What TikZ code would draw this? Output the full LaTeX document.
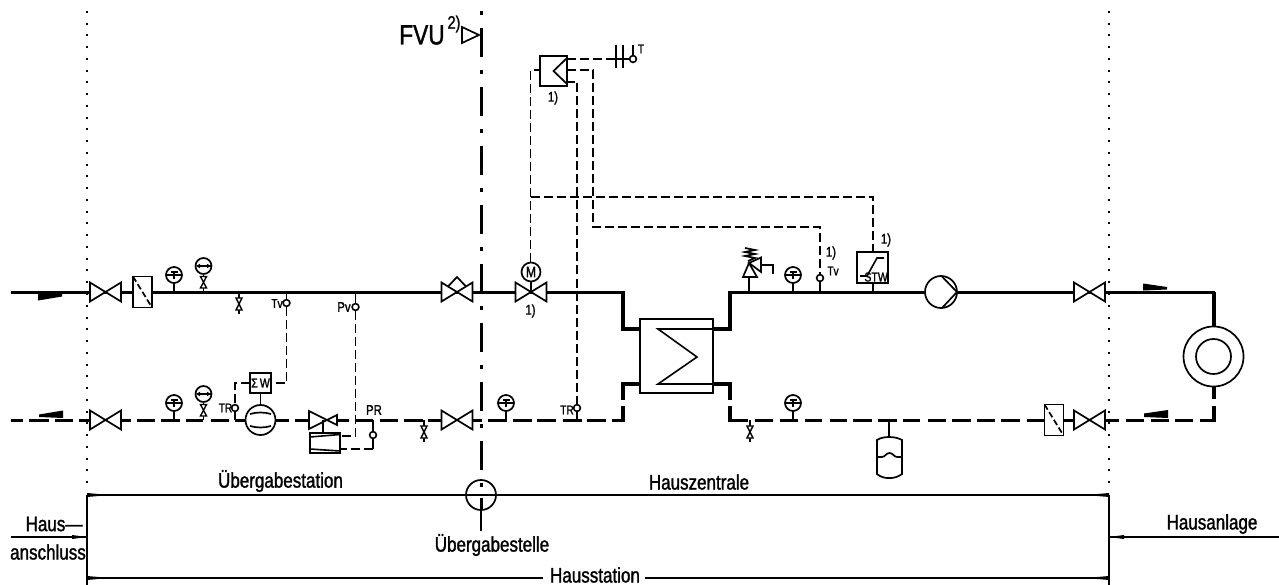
\documentclass[tikz,border=0pt]{standalone}
\usepackage{fontspec}
\setmainfont{Liberation Sans}[FakeStretch=0.81,FakeBold=1.4]
\tikzset{
 x=1pt,y=-1pt,
 pipe/.style={line width=3pt,line cap=butt},
 pipeh/.style={line width=4pt,line cap=butt,line join=miter},
 sym/.style={line width=1.7pt,line join=miter},
 thin line/.style={line width=1.6pt},
 ctrl/.style={line width=1.6pt,dash pattern=on 9pt off 4pt},
 lbl/.style={inner sep=0pt,font=\fontsize{21}{21}\selectfont},
 small/.style={inner sep=0pt,font=\fontsize{14}{14}\selectfont},
 tiny lbl/.style={inner sep=0pt,font=\fontsize{12.5}{12.5}\selectfont},
}
\newcommand{\valve}[2]{%
 \filldraw[sym,fill=white] (#1-15.5,#2-9.5)--(#1+15.5,#2+9.5)--(#1+15.5,#2-9.5)--(#1-15.5,#2+9.5)--cycle;}
\newcommand{\filterbox}[2]{%
 \filldraw[sym,fill=white] (#1-9.5,#2-15.5) rectangle (#1+9.5,#2+15.5);
 \draw[sym,dash pattern=on 6pt off 3pt] (#1-9.5,#2-15.5)--(#1+9.5,#2+15.5);}
\newcommand{\thermo}[2]{%
 \draw[thin line] (#1,#2+8)--(#1,#2+17);
 \filldraw[sym,fill=white] (#1,#2) circle (8);
 \draw[line width=1.4pt] (#1-8,#2)--(#1+8,#2);
 \draw[line width=1.4pt] (#1-3.5,#2-3)--(#1+3.5,#2-3) (#1,#2-3)--(#1,#2+4);}
\newcommand{\mano}[2]{%
 \filldraw[sym,fill=white] (#1,#2) circle (8);
 \draw[line width=1.3pt] (#1-7,#2)--(#1+7,#2);
 \fill (#1-7.5,#2)--(#1-3.5,#2-2.2)--(#1-3.5,#2+2.2)--cycle;
 \fill (#1+7.5,#2)--(#1+3.5,#2-2.2)--(#1+3.5,#2+2.2)--cycle;
 \draw[thin line] (#1,#2+8)--(#1,#2+26);
 \filldraw[sym,line width=1.4pt,fill=white] (#1-3,#2+10.5)--(#1+3,#2+10.5)--(#1-3,#2+22)--(#1+3,#2+22)--cycle;}
\newcommand{\drain}[2]{%
 \draw[thin line] (#1,#2)--(#1,#2+22);
 \filldraw[sym,line width=1.4pt,fill=white] (#1-3,#2+6)--(#1+3,#2+6)--(#1-3,#2+18)--(#1+3,#2+18)--cycle;}
\newcommand{\sensor}[2]{\draw[thin line,fill=white] (#1,#2) circle (3.4);}
\begin{document}
\begin{tikzpicture}
\useasboundingbox (0,0) rectangle (1279,585);
\foreach \xx in {87,1109}{
 \foreach \yy in {12,23.75,...,490}{\fill (\xx-1,\yy-1) rectangle (\xx+1,\yy+1);}}
\foreach \yy in {13,72,131,190,249,308,367,426,485}{\fill (479.5,\yy-2) rectangle (482.5,\yy+2);}
\foreach \yy in {28,87,146,205,264,323,382,441}{\fill (479.5,\yy) rectangle (482.5,\yy+29);}
\fill (479.5,498) rectangle (482.5,510);
% supply pipe
\draw[pipe] (11,292)--(623,292);
\draw[pipeh] (623,290.5)--(623,329)--(640,329);
\draw[pipeh] (713,329)--(730,329)--(730,290.5);
\draw[pipe] (730,292)--(1215,292);
\draw[pipeh] (1213.5,292)--(1213.5,327);
% return pipe
\foreach \a/\b in {11/23,29/49,55/73,79/90,121/131,137/155,161/180,186/203,211/229,235/245,276/289,295/309,337/349,355/373,380/398,404/423,428/442,472/482,488/507,513/532,537/556,563/582,587/606,612/624.5,730/748,755/773,780/798,805/822,830/847,853/872,878/897,903/920,928/946,952/971,977/995,1001/1020,1027/1045,1063/1073,1106/1119,1126/1144,1151/1169,1175/1193,1200/1215.5}{
 \draw[pipe] (\a,420)--(\b,420);}
\draw[pipeh] (640,384)--(623,384)--(623,400);
\draw[pipeh] (623,406)--(623,421.5);
\draw[pipeh] (713,384)--(730,384)--(730,400);
\draw[pipeh] (730,406)--(730,421.5);
\draw[pipeh] (1213.5,387)--(1213.5,399);
\draw[pipeh] (1213.5,406)--(1213.5,421.5);
% flow wedges
\fill (38,294)--(62,294)--(62,296.5)--(38,300.5)--cycle;
\fill (39,414.5)--(63,410.5)--(63,418)--(39,417)--cycle;
\fill (1143,283.5)--(1167,287)--(1167,289.5)--(1143,290.5)--cycle;
\fill (1144,413.5)--(1168,410)--(1168,418)--(1144,417)--cycle;
% valves
\valve{105.5}{292}\valve{105.5}{420}
\filterbox{142.5}{292}
\filterbox{1054}{420}
\valve{1089.5}{292}\valve{1089.5}{420}
\valve{457}{420}
\valve{457}{292}
\draw[sym] (448,286.5)--(457,277)--(466,286.5);
\valve{531}{292}
\draw[thin line] (531,281.5)--(531,292);
\filldraw[sym,fill=white] (531,272) circle (9.5);
\node[inner sep=0pt,font=\fontsize{15}{15}\selectfont] (mlabel) at (531,272) {M};
\node[small] (one a) at (530.5,311) {1)};
% instruments
\thermo{174}{275}\mano{203.5}{266}
\thermo{174}{403}\mano{203.5}{394}
\thermo{506}{403}\thermo{793}{275}\thermo{793}{403}
\drain{239}{292}\drain{424}{420}\drain{750}{420}
% Tv left
\draw[thin line] (286.5,292)--(286.5,300);
\sensor{286.5}{303}
\node[tiny lbl] (tv1) at (277,303.5) {Tv};
\draw[ctrl] (286.5,306.5)--(286.5,383)--(271,383);
\draw[ctrl] (250,383)--(235,383)--(235,405);
\draw[thin line] (235,411)--(235,420);
\sensor{235}{408}
\node[tiny lbl] (tr1) at (225.5,408) {TR};
% heat meter
\draw[sym,fill=white] (250,373) rectangle (271,393);
\node[inner sep=0pt,font=\fontsize{13}{13}\selectfont] (sw) at (260.5,383) {Σ\,W};
\draw[sym] (260.5,393)--(260.5,405);
\filldraw[sym,fill=white] (260.5,420) circle (15);
\draw[sym] (250,414) .. controls (257,412) and (264,412) .. (271,414);
\draw[sym] (250,426) .. controls (257,428) and (264,428) .. (271,426);
% Pv
\draw[thin line] (355.5,292)--(355.5,304);
\sensor{355.5}{307}
\node[small] (pv) at (344,307) {Pv};
\draw[ctrl] (355.5,310.5)--(355.5,436)--(340,436);
% pressure regulator
\filldraw[sym,fill=white] (309,411)--(337,425)--(337,415)--(309,429)--cycle;
\draw[sym] (323,420)--(323,433);
\draw[sym,fill=white] (310,433) rectangle (340,453);
\draw[thin line] (310,437)--(340,434.5) (310,449)--(340,451);
\draw[thin line] (373,420)--(373,432);
\sensor{373}{435}
\node[small] (pr) at (374,410) {PR};
\draw[thin line] (373,438.2)--(373,449);
\draw[ctrl] (373,449)--(340,449);
% TR right
\draw[thin line] (577,411)--(577,420);
\sensor{577}{408}
\node[tiny lbl] (tr2) at (567,410) {TR};
% heat exchanger
\draw[line width=2pt] (640,319) rectangle (713,393);
\draw[line width=1.6pt] (713,329)--(658,329)--(697,357)--(658,384)--(713,384);
% control lines
\draw[ctrl] (530.5,262)--(530.5,70)--(540,70);
\draw[ctrl] (530.5,197)--(873,197)--(873,252);
\draw[ctrl] (577,404.5)--(577,82)--(567,82);
\draw[ctrl] (567,70)--(593,70)--(593,227)--(820,227)--(820,274.5);
\draw[ctrl] (567,59)--(613,59);
\draw[sym] (540,56) rectangle (567,86);
\draw[sym] (567,58)--(553.5,71)--(567,84);
\draw[thin line] (613,59)--(629.5,59);
\draw[sym] (616,45)--(616,68) (623,45)--(623,68);
\draw[thin line] (633,55.5)--(633,45);
\sensor{633}{59}
\node[tiny lbl] (t) at (641,49) {T};
\node[small] (one b) at (553,98) {1)};
% right sensor & STW
\draw[thin line] (820,281.5)--(820,292);
\sensor{820}{278}
\node[small] (one c) at (831,253) {1)};
\node[tiny lbl] (tv2) at (833,271) {Tv};
\draw[thin line] (873,283)--(873,292);
\draw[sym] (857,252) rectangle (888,283);
\draw[thin line] (860,276)--(867,276)--(877,258)--(884,258);
\node[inner sep=0pt,font=\fontsize{13}{13}\selectfont,anchor=east] (stw) at (888,277) {STW};
\node[small] (one d) at (886,240) {1)};
% safety valve
\draw[thin line] (749,277)--(749,292);
\draw[sym] (743,277)--(757,277)--(749,263)--cycle;
\draw[line width=1.7pt] (745,248)--(755,250)--(745,252)--(755,254)--(745,256)--(755,258)--(748,261);
\draw[sym] (749,263)--(761,257.5)--(761,272)--cycle;
\draw[thin line] (761,265)--(773,265)--(773,274);
% pump
\filldraw[sym,fill=white] (941,292) circle (16);
\draw[sym] (942,276.5)--(957,292)--(942,308);
% radiator
\filldraw[sym,fill=white] (1213.5,356.5) circle (30);
\draw[sym] (1213.5,356.5) circle (17.5);
% tank
\draw[thin line] (889,420)--(889,436);
\draw[sym] (877,440) .. controls (883,436) and (895,436) .. (902,440)--(902,474) .. controls (895,479.5) and (883,479.5) .. (877,474)--cycle;
\draw[sym] (877,457)--(882,457) .. controls (885,457) and (886,453) .. (889.5,453) .. controls (893,453) and (894,457) .. (897,457)--(902,457);
% FVU
\node[inner sep=0pt,font=\fontsize{28}{28}\selectfont] (fvu) at (422,35) {FVU};
\node[inner sep=0pt,font=\fontsize{18}{18}\selectfont] (two) at (454,24) {2)};
\draw[sym] (462,27)--(479,35)--(462,43)--cycle;
% dimension lines
\draw[thin line] (87,495)--(466,495) (496,495)--(1109,495);
\draw[thin line] (87,578)--(543,578) (645,578)--(1109,578);
\draw[line width=1.8pt] (87,495)--(87,585) (1109,495)--(1109,585);
\fill (87,493)--(102,494.3)--(102,495.7)--(87,497)--cycle;
\fill (1109,493)--(1094,494.3)--(1094,495.7)--(1109,497)--cycle;
\fill (87,576)--(102,577.3)--(102,578.7)--(87,580)--cycle;
\fill (1109,576)--(1094,577.3)--(1094,578.7)--(1109,580)--cycle;
\draw[thin line] (11,537)--(87,537);
\fill (87,537)--(72,535)--(72,539)--cycle;
\draw[thin line] (1109,537)--(1279,537);
\fill (1109,537)--(1124,535)--(1124,539)--cycle;
% transfer point
\draw[sym] (481,495) circle (15);
\fill (466,493.5) rectangle (496,496.2);
\draw[thin line] (481,510)--(481,531);
% labels
\node[lbl] (ustation) at (280.5,481) {Übergabestation};
\node[lbl] (hz) at (699,482) {Hauszentrale};
\node[lbl] (ustelle) at (492,545) {Übergabestelle};
\node[lbl] (hs) at (595,575) {Hausstation};
\node[lbl] (haus) at (54,524) {Haus—};
\node[lbl] (ansch) at (48,552) {anschluss};
\node[lbl] (ha) at (1212,524) {Hausanlage};
\end{tikzpicture}
\end{document}
